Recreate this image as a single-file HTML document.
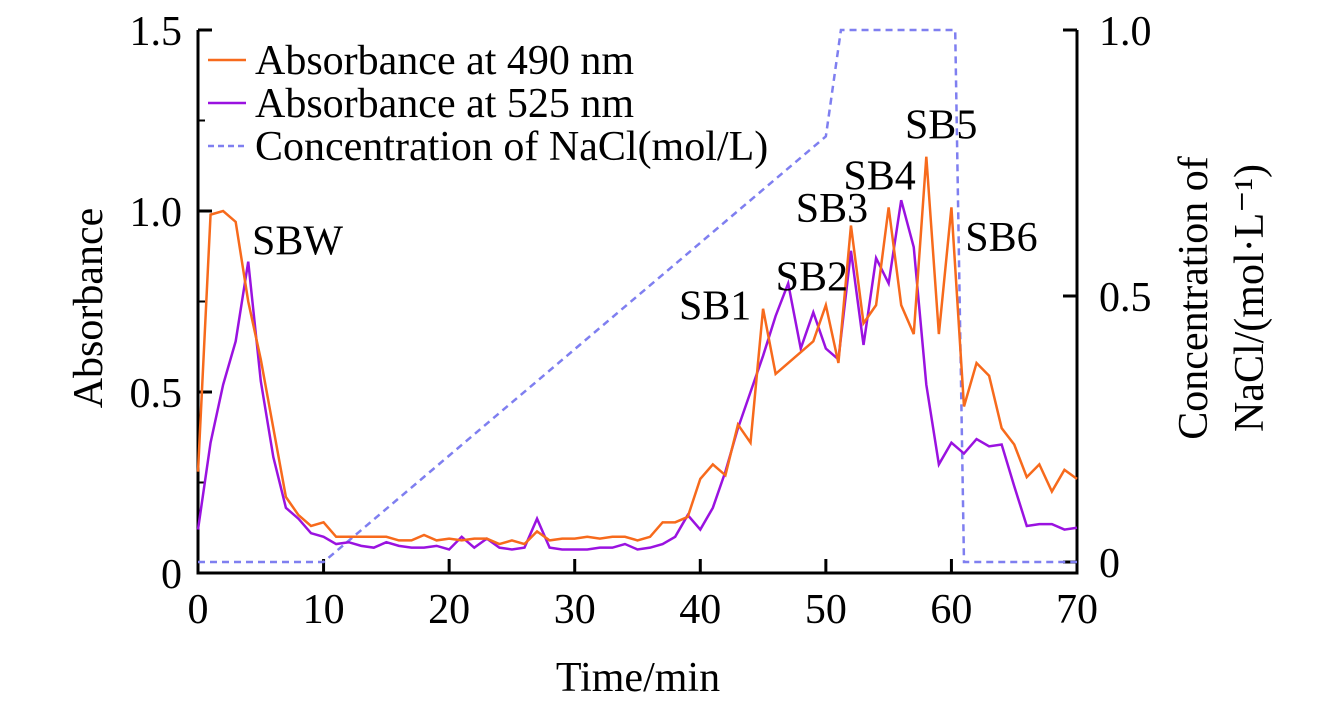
<!DOCTYPE html>
<html><head><meta charset="utf-8"><style>
body{margin:0;background:#fff;}
svg text{font-family:"Liberation Serif",serif;fill:#000;}
</style></head><body>
<svg id="chart" width="1339" height="709" xmlns="http://www.w3.org/2000/svg">
<g id="axes"></g>
<g id="marks"></g>
<g id="labels"></g>
</svg>
<script>
const times = Array.from({length:71},(_,i)=>i);
const abs490 = [0.28,0.99,1.0,0.97,0.75,0.59,0.40,0.21,0.16,0.13,0.14,0.10,0.10,0.10,0.10,0.10,0.09,0.09,0.105,0.09,0.095,0.09,0.095,0.095,0.08,0.09,0.08,0.115,0.09,0.095,0.095,0.10,0.095,0.10,0.10,0.09,0.10,0.14,0.14,0.155,0.26,0.30,0.27,0.41,0.36,0.73,0.55,0.58,0.61,0.64,0.74,0.58,0.96,0.69,0.74,1.01,0.74,0.66,1.15,0.66,1.01,0.46,0.58,0.545,0.40,0.355,0.265,0.30,0.225,0.285,0.26];
const abs525 = [0.12,0.36,0.52,0.64,0.86,0.53,0.32,0.18,0.15,0.11,0.10,0.08,0.085,0.075,0.07,0.085,0.075,0.07,0.07,0.075,0.065,0.10,0.07,0.095,0.07,0.065,0.07,0.15,0.07,0.065,0.065,0.065,0.07,0.07,0.08,0.065,0.07,0.08,0.10,0.16,0.12,0.18,0.28,0.40,0.50,0.60,0.71,0.80,0.62,0.72,0.62,0.59,0.89,0.63,0.87,0.80,1.03,0.90,0.52,0.30,0.36,0.33,0.37,0.35,0.355,0.24,0.13,0.135,0.135,0.12,0.125];
const naclTimes = [0,10,50,51.2,60.3,61,70];
const naclConc = [0,0,0.8,1.0,1.0,0,0];
const xTicks = [0,10,20,30,40,50,60,70];
const yTicks = [0,0.5,1.0,1.5];
const yTickLabels = ["0","0.5","1.0","1.5"];
const y2Ticks = [0,0.5,1.0];
const y2TickLabels = ["0","0.5","1.0"];
const peakNames = ["SBW","SB1","SB2","SB3","SB4","SB5","SB6"];
const peakPos = [[4.3,0.88],[38.3,0.70],[46.0,0.78],[47.6,0.97],[51.4,1.06],[56.3,1.20],[61.1,0.89]];

const NS="http://www.w3.org/2000/svg";
const X0=198,X1=1077,YB=573,YT=30,Y2B=562;
const FS=42;
const sx=t=>X0+(t/70)*(X1-X0);
const sy=v=>YB-(v/1.5)*(YB-YT);
const sy2=v=>Y2B-v*(Y2B-YT);
function mk(tag,attrs,parent){const e=document.createElementNS(NS,tag);for(const k in attrs)e.setAttribute(k,attrs[k]);parent.appendChild(e);return e;}
const axes=document.getElementById('axes'),marks=document.getElementById('marks'),labels=document.getElementById('labels');

const frame=mk('path',{d:`M${X0},${YT} V${YB} H${X1} V${YT}`,fill:'none',stroke:'#000','stroke-width':3},axes);


xTicks.forEach(t=>{
  const l=mk('line',{x1:sx(t),x2:sx(t),y1:YB,y2:YB-14,stroke:'#000','stroke-width':3},axes);
  
  
  const tx=mk('text',{x:sx(t),y:YB+50,'text-anchor':'middle','font-size':FS},axes);
  tx.textContent=t;
  
  
});
yTicks.forEach((v,i)=>{
  const l=mk('line',{x1:X0,x2:X0+14,y1:sy(v),y2:sy(v),stroke:'#000','stroke-width':3},axes);
  
  
  const tx=mk('text',{x:X0-16,y:sy(v)+15,'text-anchor':'end','font-size':FS},axes);
  tx.textContent=yTickLabels[i];
  
  
});
[0.25,0.75,1.25].forEach(v=>{
  const l=mk('line',{x1:X0,x2:X0+7,y1:sy(v),y2:sy(v),stroke:'#000','stroke-width':2},axes);
  
  
});
y2Ticks.forEach((v,i)=>{
  const l=mk('line',{x1:X1,x2:X1-14,y1:sy2(v),y2:sy2(v),stroke:'#000','stroke-width':3},axes);
  
  
  const tx=mk('text',{x:X1+22,y:sy2(v)+15,'text-anchor':'start','font-size':FS},axes);
  tx.textContent=y2TickLabels[i];
  
  
});

function line(ts,vs,f,color,dash,name){
  const p=mk('polyline',{points:ts.map((t,i)=>sx(t)+','+f(vs[i])).join(' '),fill:'none',stroke:color,'stroke-width':2.5,'stroke-dasharray':dash||'none','stroke-linejoin':'miter'},marks);
  
  
}
line(naclTimes,naclConc,sy2,'#7f7ff0','7,5','nacl-line');
line(times,abs525,sy,'#9a12e0',null,'abs-525-line');
line(times,abs490,sy,'#f76a1c',null,'abs-490-line');

peakNames.forEach((n,i)=>{
  const tx=mk('text',{x:sx(peakPos[i][0]),y:sy(peakPos[i][1]),'font-size':FS},labels);
  tx.textContent=n;
  
  
});

const leg=[['#f76a1c',null,'Absorbance at 490 nm'],['#9a12e0',null,'Absorbance at 525 nm'],['#7f7ff0','6,4','Concentration of NaCl(mol/L)']];
leg.forEach((L,i)=>{
  const y=60+i*43;
  const l=mk('line',{x1:208,x2:246,y1:y,y2:y,stroke:L[0],'stroke-width':2.5,'stroke-dasharray':L[1]||'none'},labels);
  
  
  const tx=mk('text',{x:255,y:y+14,'font-size':FS},labels);
  tx.textContent=L[2];
  
  
});
const xt=mk('text',{x:638,y:691,'text-anchor':'middle','font-size':FS},labels);
xt.textContent='Time/min';


const yt=mk('text',{x:0,y:0,'text-anchor':'middle','font-size':FS,transform:'translate(102,308) rotate(-90)'},labels);
yt.textContent='Absorbance';


const y2a=mk('text',{x:0,y:0,'text-anchor':'middle','font-size':FS,transform:'translate(1207,298) rotate(-90)'},labels);
y2a.textContent='Concentration of';


const y2b=mk('text',{x:0,y:0,'text-anchor':'middle','font-size':FS,transform:'translate(1263,298) rotate(-90)'},labels);
y2b.textContent='NaCl/(mol·L⁻¹)';


</script>
</body></html>
